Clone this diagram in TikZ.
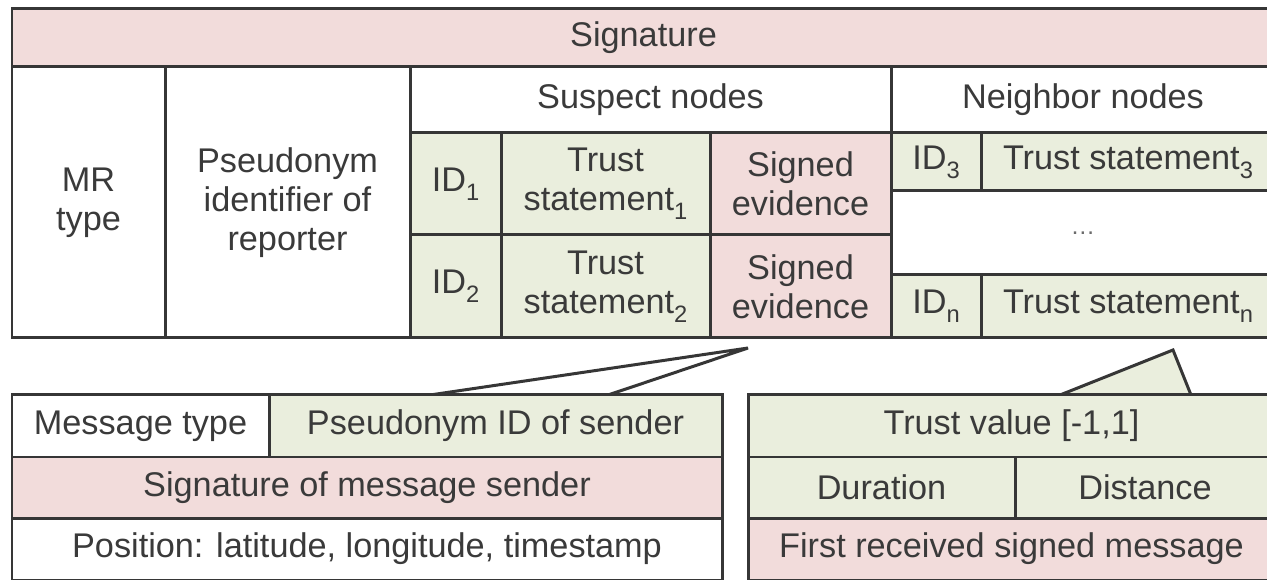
\documentclass[tikz,border=0pt]{standalone}
\usepackage{fontspec}
\setmainfont{Liberation Sans}
\definecolor{pinkcell}{HTML}{F2DCDB}
\definecolor{greencell}{HTML}{EAEEDD}
\definecolor{rulecol}{HTML}{363636}
\definecolor{ink}{HTML}{3A3A3A}

\tikzset{
  cellbox/.style={draw=rulecol, line width=0.06cm, inner sep=0pt, outer sep=0pt,
    align=center, text=ink, font=\fontsize{19.5}{22}\selectfont},
  calloutline/.style={draw=rulecol, line width=0.06cm, line join=miter},
}

% lowered index after an identifier
\newcommand\lowsub[1]{\raisebox{-0.5ex}{\fontsize{13.5}{13.5}\selectfont #1}}

% \tcell{name}{x1}{y1}{x2}{y2}{fill}{text}: a table cell spanning two pixel corners
\newcommand\tcell[7]{%
  \node[cellbox, fill=#6,
        minimum width={(#4-#2)*0.02cm}, minimum height={(#5-#3)*0.02cm}]
    (#1) at ({(#2+#4)/2},{(#3+#5)/2}) {#7};}

\begin{document}
\begin{tikzpicture}[x=0.02cm, y=-0.02cm]
\useasboundingbox (0,0) rectangle (1267,580);
\fill[white] (0,0) rectangle (1267,580);
\clip (0,0) rectangle (1267,580);

% callout anchors
\coordinate (tipL) at (748,348);
\coordinate (baseL1) at (430,395);
\coordinate (baseL2) at (608,395);
\coordinate (tipR) at (1173,350);
\coordinate (baseR1) at (1060,395);
\coordinate (baseR2) at (1191,395);

% callouts (drawn first so the box borders cover their bases)
\draw[calloutline, fill=white] (baseL1) -- (tipL) -- (baseL2);
\draw[calloutline, fill=greencell] (baseR1) -- (tipR) -- (baseR2);

% misbehaviour report
\tcell{sig}{12}{9}{1275}{67}{pinkcell}{Signature}
\tcell{mr}{12}{67}{165}{338}{white}{MR\\type}
\tcell{pseu}{165}{67}{410}{338}{white}{Pseudonym\\identifier of\\reporter}
\tcell{susp}{410}{67}{891}{133}{white}{Suspect nodes}
\tcell{neigh}{891}{67}{1275}{133}{white}{Neighbor nodes}

\tcell{id1}{410}{133}{501}{235}{greencell}{ID\lowsub{1}}
\tcell{ts1}{501}{133}{710}{235}{greencell}{Trust\\statement\lowsub{1}}
\tcell{se1}{710}{133}{891}{235}{pinkcell}{Signed\\evidence}
\tcell{id2}{410}{235}{501}{338}{greencell}{ID\lowsub{2}}
\tcell{ts2}{501}{235}{710}{338}{greencell}{Trust\\statement\lowsub{2}}
\tcell{se2}{710}{235}{891}{338}{pinkcell}{Signed\\evidence}

\tcell{id3}{891}{133}{981}{191}{greencell}{ID\lowsub{3}}
\tcell{tsn3}{981}{133}{1275}{191}{greencell}{Trust statement\lowsub{3}}
\tcell{dots}{891}{191}{1275}{275}{white}{\textcolor{ink!75}{\fontsize{14}{14}\selectfont …}}
\tcell{idn}{891}{275}{981}{338}{greencell}{ID\lowsub{n}}
\tcell{tsnn}{981}{275}{1275}{338}{greencell}{Trust statement\lowsub{n}}

% signed evidence
\tcell{mtype}{12}{395}{269}{457}{white}{Message type}
\tcell{pid}{269}{395}{722}{457}{greencell}{Pseudonym ID of sender}
\tcell{sigs}{12}{457}{722}{518}{pinkcell}{Signature of message sender}
\tcell{pos}{12}{518}{722}{580}{white}{Position: latitude, longitude, timestamp}

% trust statement
\tcell{tv}{748}{395}{1275}{457}{greencell}{Trust value [-1,1]}
\tcell{dur}{748}{457}{1015}{518}{greencell}{Duration}
\tcell{dist}{1015}{457}{1275}{518}{greencell}{Distance}
\tcell{frm}{748}{518}{1275}{580}{pinkcell}{First received signed message}
\end{tikzpicture}
\end{document}
